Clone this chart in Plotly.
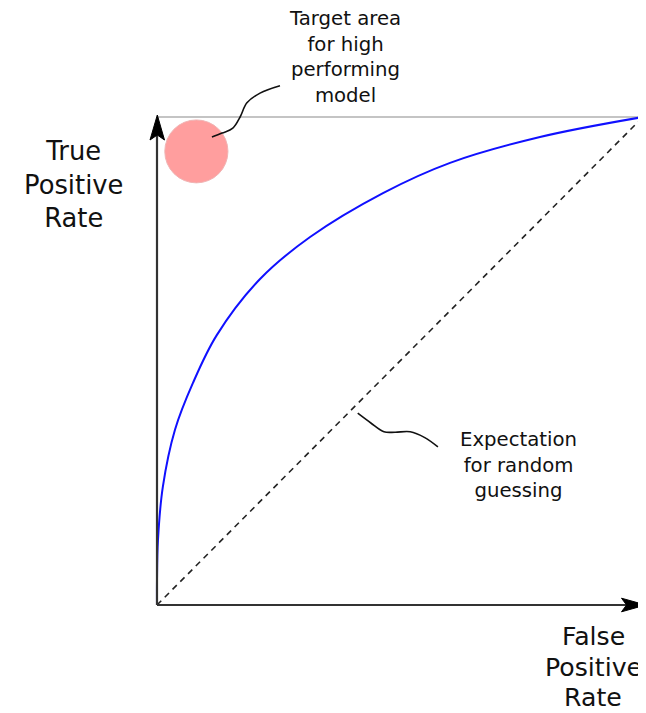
import plotly.graph_objects as go

# ROC curve (False Positive Rate, True Positive Rate)
fpr = [0.0, 0.0, 0.002, 0.012, 0.037, 0.074, 0.123, 0.212, 0.315, 0.465,
       0.603, 0.788, 1.0]
tpr = [0.0, 0.05, 0.133, 0.242, 0.359, 0.455, 0.553, 0.668, 0.754, 0.844,
       0.906, 0.959, 1.0]

# random-guess diagonal
diag_x = [0.0, 1.0]
diag_y = [0.0, 1.0]

# target region (circle) in rate units
target_x = [0.016, 0.146]
target_y = [0.865, 0.994]

# connector curves (rate units)
conn_target_x = [0.113, 0.134, 0.156, 0.171, 0.185, 0.212, 0.253]
conn_target_y = [0.959, 0.967, 0.977, 1.0, 1.029, 1.049, 1.064]
conn_random_x = [0.413, 0.440, 0.467, 0.490, 0.521, 0.551, 0.578]
conn_random_y = [0.393, 0.373, 0.355, 0.354, 0.355, 0.343, 0.324]

ylabel = "True<br>Positive<br>Rate"
xlabel_lines = ["False", "Positive", "Rate"]
note_target = "Target area<br>for high<br>performing<br>model"
note_random = "Expectation<br>for random<br>guessing"

# page geometry (the figure sits at the page's 8px body margin)
PAGE_W, PAGE_H = 646, 713
OFF = 8
W, H = PAGE_W - OFF, PAGE_H - OFF
PX0, PX1 = 157.0, 643.0   # page pixel of x=0, x=1
PY0, PY1 = 605.0, 117.0   # page pixel of y=0, y=1
sx = (PX1 - PX0)
sy = (PY0 - PY1)
xr = [(OFF - PX0) / sx, (PAGE_W - PX0) / sx]
yr = [(PY0 - PAGE_H) / sy, (PY0 - OFF) / sy]


def px2x(p):
    return (p - PX0) / sx


def py2y(p):
    return (PY0 - p) / sy


FONT = "DejaVu Sans"
AX_COL = "#333333"

fig = go.Figure()

# gray top/right frame
fig.add_trace(go.Scatter(x=[0, 1, 1], y=[1, 1, 0], mode="lines",
                         line=dict(color="#c4c4c4", width=2), hoverinfo="skip"))
# diagonal
fig.add_trace(go.Scatter(x=diag_x, y=diag_y, mode="lines",
                         line=dict(color="#222", width=1.6, dash="6px,5px"), hoverinfo="skip"))
# ROC curve
fig.add_trace(go.Scatter(x=fpr, y=tpr, mode="lines", line_shape="spline",
                         line=dict(color="#1010ff", width=2), hoverinfo="skip"))
# connectors
fig.add_trace(go.Scatter(x=conn_target_x, y=conn_target_y, mode="lines", line_shape="spline",
                         line=dict(color="#111", width=1.6), hoverinfo="skip"))
fig.add_trace(go.Scatter(x=conn_random_x, y=conn_random_y, mode="lines", line_shape="spline",
                         line=dict(color="#111", width=1.6), hoverinfo="skip"))

# axis lines
fig.add_trace(go.Scatter(x=[0, 0], y=[0, py2y(132)], mode="lines",
                         line=dict(color=AX_COL, width=2.2), hoverinfo="skip"))
fig.add_trace(go.Scatter(x=[0, px2x(628)], y=[0, 0], mode="lines",
                         line=dict(color=AX_COL, width=2.2), hoverinfo="skip"))

# arrowheads (notched), page pixels -> axis units
up_px = [(157.3, 115), (164.5, 140), (157.3, 135), (150.0, 140), (157.3, 115)]
rt_px = [(645.7, 605), (621.5, 611.8), (626.5, 605), (621.5, 598.2), (645.7, 605)]
for pts in (up_px, rt_px):
    fig.add_trace(go.Scatter(x=[px2x(p[0]) for p in pts], y=[py2y(p[1]) for p in pts],
                             mode="lines", fill="toself", fillcolor="#000",
                             line=dict(color="#000", width=1), hoverinfo="skip"))

# target circle
fig.add_shape(type="circle", xref="x", yref="y",
              x0=target_x[0], x1=target_x[1], y0=target_y[0], y1=target_y[1],
              fillcolor="#ff9e9e", line=dict(color="#f0b4b4", width=1), layer="below")

# texts
fig.add_annotation(x=px2x(73), y=py2y(184), xref="x", yref="y", text=ylabel, showarrow=False,
                   font=dict(family=FONT, size=25.8, color="#111"), align="center")
for txt, cy in zip(xlabel_lines, [636, 667, 697]):
    fig.add_annotation(x=px2x(593), y=py2y(cy), xref="x", yref="y", text=txt, showarrow=False,
                       font=dict(family=FONT, size=25.2, color="#111"), align="center",
                       borderpad=0)
fig.add_annotation(x=px2x(345), y=py2y(57), xref="x", yref="y", text=note_target, showarrow=False,
                   font=dict(family=FONT, size=19.7, color="#111"), align="center")
fig.add_annotation(x=px2x(518), y=py2y(465), xref="x", yref="y", text=note_random, showarrow=False,
                   font=dict(family=FONT, size=19.7, color="#111"), align="center")

fig.update_layout(
    width=W, height=H, margin=dict(l=0, r=0, t=0, b=0),
    paper_bgcolor="white", plot_bgcolor="white", showlegend=False,
    xaxis=dict(range=xr, visible=False, fixedrange=True),
    yaxis=dict(range=yr, visible=False, fixedrange=True),
)

fig.write_html("out.html")
